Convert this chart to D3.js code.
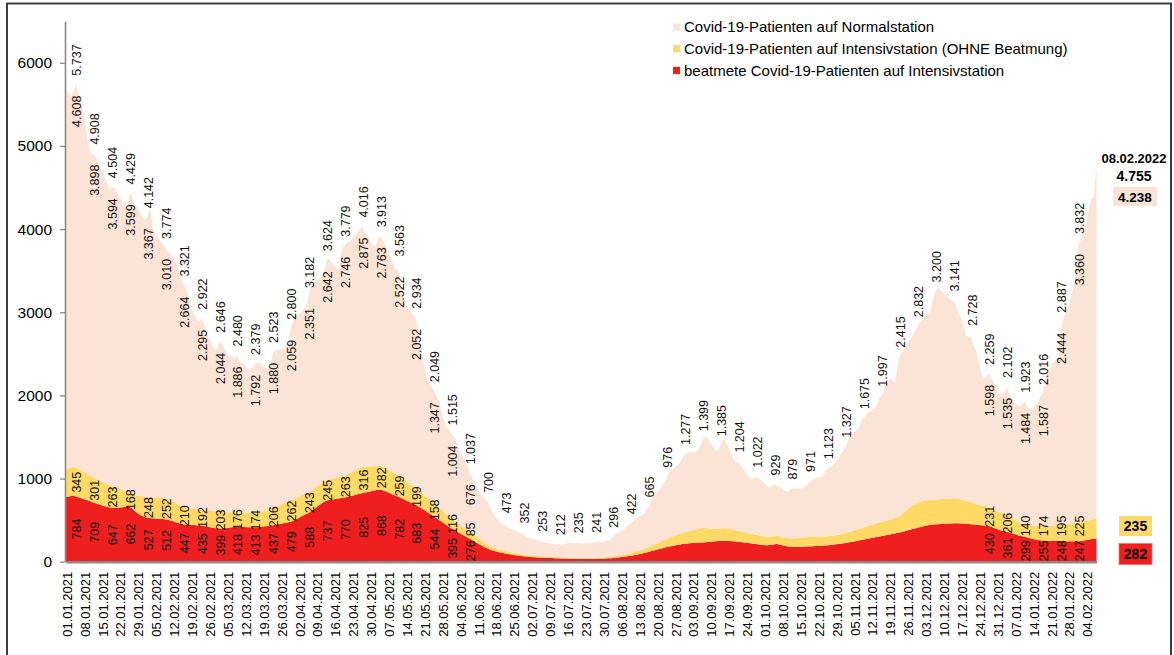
<!DOCTYPE html>
<html><head><meta charset="utf-8">
<script src="https://cdn.jsdelivr.net/npm/d3@7"></script>
<style>
html,body{margin:0;padding:0;background:#fff;}
svg{display:block;font-family:"Liberation Sans",Arial,Helvetica,sans-serif;}
</style></head><body>
<svg id="chart" width="1174" height="655"></svg>
<script>
// ---------- DATA ----------
const firstDay = "01.01.2021";
const lastDay = "08.02.2022";

const seriesNames = [
  "Covid-19-Patienten auf Normalstation",
  "Covid-19-Patienten auf Intensivstation (OHNE Beatmung)",
  "beatmete Covid-19-Patienten auf Intensivstation"
];

const dateTickLabels = ["01.01.2021","08.01.2021","15.01.2021","22.01.2021","29.01.2021","05.02.2021","12.02.2021","19.02.2021","26.02.2021","05.03.2021","12.03.2021","19.03.2021","26.03.2021","02.04.2021","09.04.2021","16.04.2021","23.04.2021","30.04.2021","07.05.2021","14.05.2021","21.05.2021","28.05.2021","04.06.2021","11.06.2021","18.06.2021","25.06.2021","02.07.2021","09.07.2021","16.07.2021","23.07.2021","30.07.2021","06.08.2021","13.08.2021","20.08.2021","27.08.2021","03.09.2021","10.09.2021","17.09.2021","24.09.2021","01.10.2021","08.10.2021","15.10.2021","22.10.2021","29.10.2021","05.11.2021","12.11.2021","19.11.2021","26.11.2021","03.12.2021","10.12.2021","17.12.2021","24.12.2021","31.12.2021","07.01.2022","14.01.2022","21.01.2022","28.01.2022","04.02.2022"];

const yTicks = [0,1000,2000,3000,4000,5000,6000];

// daily totals (all Covid-19 patients), 01.01.2021 - 08.02.2022
const gesamt = [
5690,5640,5600,5660,
5737,5640,5500,5400,5200,4980,4890,
4908,4850,4780,4720,4640,4560,4470,
4504,4500,4440,4380,4330,4270,4250,
4429,4400,4300,4250,4200,4150,4110,
4142,4260,4020,3950,3900,3860,3820,
3774,3730,3690,3668,3600,3520,3430,
3321,3300,3180,3060,2980,2930,2890,
2922,2870,2750,2680,2620,2560,2540,
2646,2626,2560,2500,2466,2480,2440,
2480,2420,2390,2360,2330,2300,2340,
2379,2400,2380,2350,2330,2320,2350,
2523,2540,2550,2546,2560,2566,2640,
2800,2900,2947,2970,3000,3030,3067,
3182,3348,3360,3368,3400,3428,3480,
3624,3640,3600,3560,3530,3508,3760,
3800,3835,3849,3880,3930,3960,4000,
4030,3960,3920,3860,3810,3790,3880,
3913,3870,3800,3720,3680,3580,3520,
3500,3330,3180,3100,3030,2990,2960,
2920,2720,2586,2400,2230,2150,2105,
2050,2000,1920,1790,1690,1624,1580,
1530,1500,1440,1343,1280,1220,1160,
1063,1000,942,880,822,790,760,
720,640,582,540,500,470,450,
440,410,395,381,365,355,345,
335,301,290,280,270,261,250,
245,235,228,221,215,210,205,
212,205,210,218,225,221,220,
228,222,220,221,225,220,225,
241,240,241,240,245,255,260,
300,335,350,365,381,410,440,
461,490,521,540,555,565,620,
665,760,800,830,862,900,960,
1022,1080,1110,1130,1150,1183,1240,
1295,1310,1323,1320,1303,1340,1383,
1460,1511,1483,1440,1383,1340,1330,
1400,1483,1440,1380,1290,1240,1190,
1204,1150,1110,1062,1020,982,1000,
1022,1000,982,950,922,890,900,
929,915,895,882,860,842,862,
879,880,882,880,882,900,930,
971,980,1002,1010,1015,1022,1090,
1123,1140,1163,1200,1250,1290,1340,
1383,1480,1510,1550,1584,1600,1700,
1725,1770,1800,1825,1840,1865,1960,
1997,2090,2140,2190,2206,2145,2300,
2466,2530,2570,2620,2667,2710,2760,
2832,2887,2920,2970,2990,3007,3148,
3250,3308,3260,3240,3208,3170,3148,
3141,3067,2990,2947,2847,2720,2700,
2700,2600,2520,2400,2266,2206,2230,
2259,2200,2145,2080,2025,1990,2040,
2102,2005,1950,1905,1880,1865,1900,
1923,1865,1840,1825,1880,1905,1990,
2016,2186,2300,2346,2400,2426,2450,
2800,2907,2990,3067,3180,3308,3500,
3800,3880,3960,4050,4250,4360,4390,
4755
];

// daily ventilated ICU patients
const beatmet = [
780,782,790,795,
784,775,765,755,745,735,722,
709,700,690,680,670,662,655,
647,645,648,652,655,658,660,
662,640,610,585,565,550,538,
527,525,522,520,518,516,514,
512,505,495,485,475,465,455,
447,445,443,441,440,438,436,
435,430,425,418,410,405,401,
399,400,403,406,410,413,416,
418,418,417,416,415,414,413,
413,415,418,422,426,430,434,
437,443,449,455,462,468,474,
479,492,508,525,543,560,575,
588,610,632,655,678,700,720,
737,742,747,752,757,762,766,
770,778,786,794,802,810,818,
825,832,838,845,852,858,864,
868,860,848,835,820,805,793,
782,768,753,738,723,708,695,
683,665,645,625,605,585,565,
544,523,502,481,459,437,416,
395,378,361,344,327,310,292,
276,258,240,222,205,188,172,
158,145,135,125,117,110,104,
98,92,87,82,78,74,70,
66,63,60,57,55,53,51,
49,47,45,44,43,42,41,
40,39,38,37,36,36,35,
35,34,33,32,32,31,31,
31,32,34,36,38,40,42,
45,48,52,56,60,64,68,
72,77,83,90,97,104,112,
120,128,136,144,152,160,168,
176,184,190,196,202,208,212,
216,219,222,224,226,228,230,
232,235,238,241,244,247,250,
252,253,252,250,248,246,243,
240,236,232,228,224,220,216,
212,208,204,200,198,200,205,
210,212,208,200,192,186,182,
180,179,179,180,181,182,183,
185,186,188,190,192,194,196,
199,202,205,209,213,217,221,
226,231,237,243,249,255,260,
266,272,278,284,290,296,302,
308,314,320,326,332,338,344,
350,358,366,374,383,392,400,
408,416,424,431,437,442,446,
449,451,453,455,457,459,460,
462,462,461,460,458,455,452,
449,446,443,440,437,434,432,
430,418,406,394,383,372,366,
361,352,342,332,322,313,305,
299,291,283,275,268,262,258,
255,253,251,250,249,248,248,
248,248,247,247,246,246,247,
247,250,255,260,266,272,277,
282
];

// daily ICU patients without ventilation
const ohneBeatmung = [
340,343,345,346,
345,340,334,328,320,312,305,
301,296,290,284,278,272,267,
263,255,240,225,205,188,175,
168,180,195,210,225,238,245,
248,249,250,250,251,251,252,
252,248,242,235,228,220,214,
210,207,204,200,197,195,193,
192,193,195,197,199,201,202,
203,199,195,190,186,182,178,
176,175,175,175,174,174,174,
174,178,183,188,194,199,203,
206,214,222,230,238,246,254,
262,259,256,253,250,247,245,
243,243,244,244,244,245,245,
245,247,250,253,256,259,261,
263,270,278,286,294,302,310,
316,311,306,300,295,290,286,
282,279,275,272,268,265,262,
259,250,241,232,224,215,207,
199,193,187,181,175,169,163,
158,152,146,140,134,128,122,
116,112,107,103,98,94,89,
85,79,73,67,61,55,49,
45,42,39,36,34,32,30,
28,27,26,25,24,23,22,
21,20,19,19,18,18,17,
17,16,16,15,15,15,14,
14,14,13,13,13,13,12,
12,12,12,12,12,11,11,
11,12,13,14,15,16,17,
18,20,22,24,26,28,30,
33,36,39,42,46,50,54,
58,63,68,74,80,86,92,
98,104,110,116,122,128,133,
138,143,148,153,158,163,168,
172,170,165,158,150,145,145,
148,150,150,148,145,140,136,
133,130,127,124,120,117,114,
112,110,108,106,100,95,94,
95,100,98,95,100,100,100,
102,104,106,108,110,111,112,
112,112,112,112,110,108,106,
106,106,107,108,110,112,115,
118,122,126,130,134,138,142,
146,150,154,158,162,166,168,
170,172,174,176,180,185,190,
195,215,235,255,270,285,295,
300,305,305,303,300,300,300,
300,300,300,300,300,300,300,
300,298,295,290,285,280,275,
270,260,250,245,240,236,233,
231,226,222,218,214,210,208,
206,196,186,175,165,155,147,
140,145,150,155,160,165,170,
174,177,180,183,186,189,192,
195,199,203,208,213,217,221,
225,227,229,231,232,233,234,
235
];

// weekly (Tuesday) data labels, 05.01.2021 - 01.02.2022
const labelTotal = [5737,4908,4504,4429,4142,3774,3321,2922,2646,2480,2379,2523,2800,3182,3624,3779,4016,3913,3563,2934,2049,1515,1037,700,473,352,253,212,235,241,296,422,665,976,1277,1399,1385,1204,1022,929,879,971,1123,1327,1675,1997,2415,2832,3200,3141,2728,2259,2102,1923,2016,2887,3832];
const N = null;
const labelNormal = [4608,3898,3594,3599,3367,3010,2664,2295,2044,1886,1792,1880,2059,2351,2642,2746,2875,2763,2522,2052,1347,1004,676,N,N,N,N,N,N,N,N,N,N,N,N,N,N,N,N,N,N,N,N,N,N,N,N,N,N,N,N,1598,1535,1484,1587,2444,3360];
const labelOhne = [345,301,263,168,248,252,210,192,203,176,174,206,262,243,245,263,316,282,259,199,158,116,85,N,N,N,N,N,N,N,N,N,N,N,N,N,N,N,N,N,N,N,N,N,N,N,N,N,N,N,N,231,206,140,174,195,225];
const labelBeatmet = [784,709,647,662,527,512,447,435,399,418,413,437,479,588,737,770,825,868,782,683,544,395,276,N,N,N,N,N,N,N,N,N,N,N,N,N,N,N,N,N,N,N,N,N,N,N,N,N,N,N,N,430,361,299,255,248,247];

const colors = {normal:"#FBE4D5", ohne:"#FFD966", beatmet:"#F01F1F"};

// ---------- CHART ----------
const svg = d3.select("#chart");
const parse = d3.utcParse("%d.%m.%Y");
const days = d3.utcDay.range(parse(firstDay), d3.utcDay.offset(parse(lastDay), 1));
const x = d3.scaleUtc().domain([days[0], days[days.length-1]]).range([65.7, 1096.5]);
const y = d3.scaleLinear().domain([0, 6500]).range([561.7, 21.2]);
const de = d3.formatLocale({decimal:",", thousands:".", grouping:[3], currency:["","€"]});
const fmt = de.format(",d");

const rows = days.map((dt,i)=>({date:dt, beatmet:beatmet[i], ohne:ohneBeatmung[i], normal:gesamt[i]-beatmet[i]-ohneBeatmung[i]}));
const layers = d3.stack().keys(["beatmet","ohne","normal"])(rows);
const area = d3.area().x(d=>x(d.data.date)).y0(d=>y(d[0])).y1(d=>y(d[1]));

svg.append("g").selectAll("path").data(layers).join("path")
  .attr("d", area).attr("fill", d=>colors[d.key]);

// frame
svg.append("rect").attr("x",7).attr("y",3.5).attr("width",1164).attr("height",700)
  .attr("fill","none").attr("stroke","#3c3c3c").attr("stroke-width",2);

// y axis
const yAxis = svg.append("g").attr("transform","translate(65,0)")
  .call(d3.axisLeft(y).tickValues(yTicks).tickSize(5).tickSizeOuter(0).tickPadding(8).tickFormat(d3.format("d")));
yAxis.select(".domain").attr("stroke","#8a8a8a").attr("stroke-width",1.6);
yAxis.selectAll(".tick line").attr("stroke","#8a8a8a").attr("stroke-width",1.3);
yAxis.selectAll("text").attr("font-size",15.5).attr("fill","#000").attr("font-family","Liberation Sans, Arial, sans-serif");

// x axis
const tickDates = dateTickLabels.map(parse);
const xAxis = svg.append("g").attr("transform",`translate(0,${y(0)})`)
  .call(d3.axisBottom(x).tickValues(tickDates).tickSize(0).tickSizeOuter(0).tickFormat(d3.utcFormat("%d.%m.%Y")));
xAxis.select(".domain").attr("stroke","#8a8a8a").attr("stroke-width",2.6);
xAxis.selectAll("text")
  .attr("transform","rotate(-90)").attr("text-anchor","end")
  .attr("x",-10).attr("y",1).attr("dy","0.35em")
  .attr("font-size",13).attr("fill","#000").attr("font-family","Liberation Sans, Arial, sans-serif");

// weekly value labels
const lab = svg.append("g").attr("font-size",12.5).attr("fill","#111");
labelTotal.forEach((tv,k)=>{
  const i = 4 + 7*k;
  const px = x(days[i]) + 1;
  const top = Math.min(y(tv), y(gesamt[i]));
  lab.append("text").attr("transform",`translate(${px},${top-9}) rotate(-90)`)
    .attr("text-anchor","start").attr("dy","0.35em").text(fmt(tv));
  if (labelNormal[k] != null) {
    lab.append("text").attr("transform",`translate(${px},${top+11}) rotate(-90)`)
      .attr("text-anchor","end").attr("dy","0.35em").text(fmt(labelNormal[k]));
  }
  if (labelOhne[k] != null) {
    const r = labelBeatmet[k], o = labelOhne[k];
    const ty = lab.append("text").attr("text-anchor","middle").attr("dy","0.35em").text(fmt(o));
    const tr = lab.append("text").attr("text-anchor","middle").attr("dy","0.35em").text(fmt(r));
    const wy = ty.node().getComputedTextLength(), wr = tr.node().getComputedTextLength();
    const gap = 4;
    let cy = y(r + o/2);
    let cr = y(r/2);
    cr = Math.max(cr, cy + wy/2 + wr/2 + gap);
    cr = Math.min(cr, y(0) - wr/2 - 0.5);
    if (cy + wy/2 + wr/2 + gap > cr) cy = cr - wy/2 - wr/2 - gap;
    ty.attr("transform",`translate(${px},${cy}) rotate(-90)`);
    tr.attr("transform",`translate(${px},${cr}) rotate(-90)`);
  }
});

// final day annotation
const L = days.length - 1;
const ann = svg.append("g").attr("font-weight","bold").attr("fill","#000").attr("text-anchor","middle");
ann.append("text").attr("x",1134).attr("y",163).attr("font-size",13).text(lastDay);
ann.append("text").attr("x",1134).attr("y",180.5).attr("font-size",14).text(fmt(gesamt[L]));
ann.append("rect").attr("x",1113).attr("y",187).attr("width",44).attr("height",19).attr("fill",colors.normal);
ann.append("text").attr("x",1135).attr("y",201.5).attr("font-size",13.5).text(fmt(gesamt[L]-beatmet[L]-ohneBeatmung[L]));
ann.append("rect").attr("x",1119).attr("y",516).attr("width",33).attr("height",20).attr("fill",colors.ohne);
ann.append("text").attr("x",1135.5).attr("y",531).attr("font-size",14).text(fmt(ohneBeatmung[L]));
ann.append("rect").attr("x",1119).attr("y",543.5).attr("width",33).attr("height",21).attr("fill",colors.beatmet)
  .attr("stroke","#f07070").attr("stroke-width",0.8);
ann.append("text").attr("x",1135.5).attr("y",559).attr("font-size",14).text(fmt(beatmet[L]));

// legend
const legKeys = ["normal","ohne","beatmet"];
const leg = svg.append("g").attr("font-size",15).attr("fill","#000");
seriesNames.forEach((name,j)=>{
  const cy = 27 + j*21.7;
  leg.append("rect").attr("x",673).attr("y",cy-3.6).attr("width",7).attr("height",7.3).attr("fill",colors[legKeys[j]]);
  leg.append("text").attr("x",684).attr("y",cy+5.3).text(name);
});
</script>
</body></html>
